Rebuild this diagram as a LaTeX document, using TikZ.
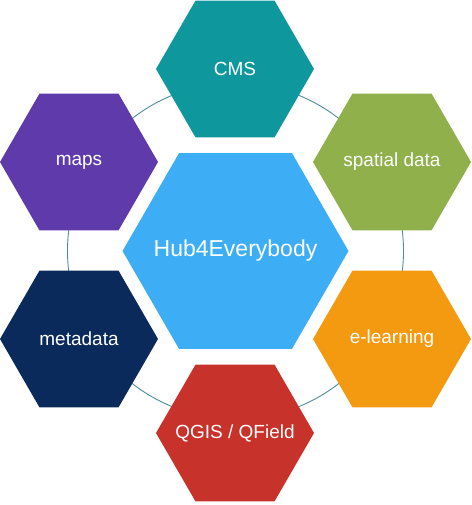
\documentclass[tikz,border=0pt]{standalone}
\usepackage{fontspec}
\setmainfont{Liberation Sans}
\usetikzlibrary{backgrounds}
\definecolor{cmsc}{HTML}{0E989E}
\definecolor{spatc}{HTML}{8FB04A}
\definecolor{elc}{HTML}{F39A10}
\definecolor{qgisc}{HTML}{C7322A}
\definecolor{metac}{HTML}{0B2A5C}
\definecolor{mapsc}{HTML}{5E3AAA}
\definecolor{hubc}{HTML}{3DAEF5}
\definecolor{ringc}{HTML}{4C8C9C}
\pgfdeclarelayer{ringlayer}
\pgfdeclarelayer{hexlayer}
\pgfsetlayers{ringlayer,hexlayer,main}
\tikzset{
  lbl/.style={inner sep=0pt, text=white, font=\fontsize{19}{22}\selectfont},
  hublbl/.style={lbl, font=\fontsize{23}{27}\selectfont},
  ring/.style={draw=ringc, line width=0.9pt}
}
\newcommand\hexfill[3]{%
  \fill[#1] (#2) +(0:#3) -- +(60:#3) -- +(120:#3) -- +(180:#3) -- +(240:#3) -- +(300:#3) -- cycle;}
\begin{document}
\begin{tikzpicture}[x=1pt,y=-1pt]
\useasboundingbox (0,0) rectangle (471,505);
\node[hublbl] (hub) at (235.5,251) {Hub4Everybody};
\node[lbl] (cms) at (235,69) {CMS};
\node[lbl] (spat) at (392,162) {spatial data};
\node[lbl] (elearn) at (392,339) {e-learning};
\node[lbl] (qgis) at (235,433) {QGIS / QField};
\node[lbl] (meta) at (79,339) {metadata};
\node[lbl] (maps) at (79,162) {maps};
\begin{pgfonlayer}{hexlayer}
  \hexfill{hubc}{hub.center}{113}
  \hexfill{cmsc}{cms.center}{79}
  \hexfill{spatc}{spat.center}{79}
  \hexfill{elc}{elearn.center}{79}
  \hexfill{qgisc}{qgis.center}{79}
  \hexfill{metac}{meta.center}{79}
  \hexfill{mapsc}{maps.center}{79}
\end{pgfonlayer}
\begin{pgfonlayer}{ringlayer}
  \draw[ring] (hub.center) circle[radius=168pt];
\end{pgfonlayer}
\end{tikzpicture}
\end{document}
